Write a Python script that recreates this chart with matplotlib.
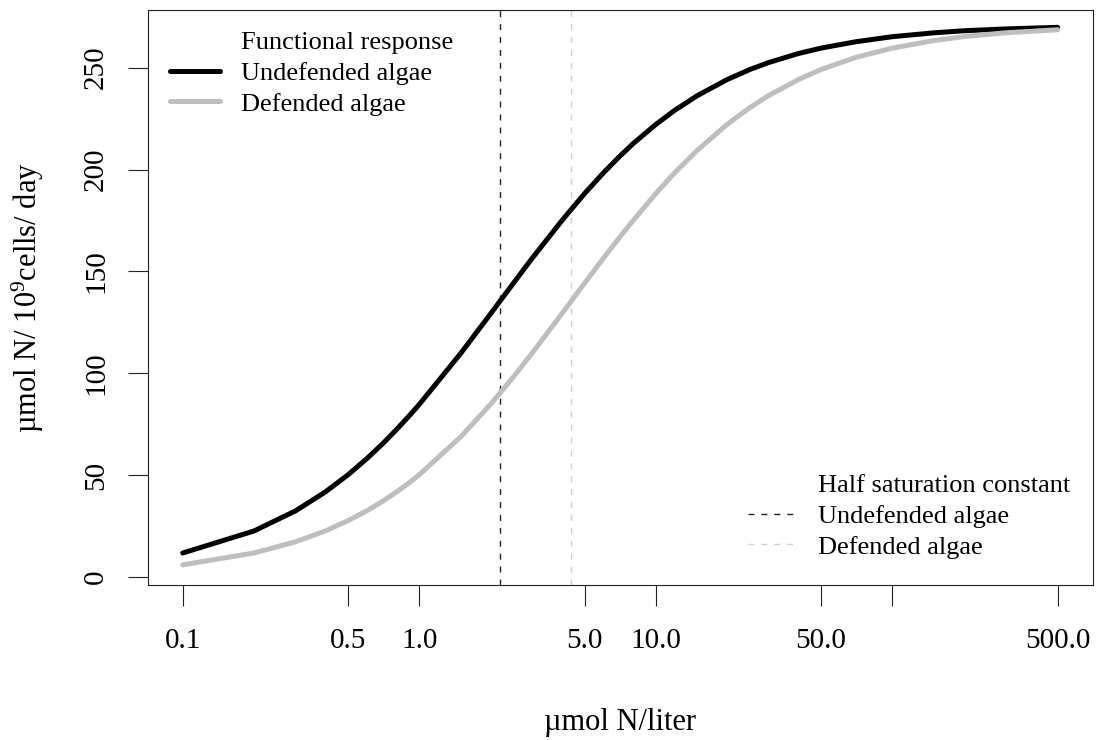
import matplotlib
matplotlib.use("Agg")
import matplotlib.pyplot as plt
from matplotlib.lines import Line2D

plt.rcParams['font.family'] = ['Liberation Serif', 'DejaVu Serif']
plt.rcParams['mathtext.fontset'] = 'custom'
plt.rcParams['mathtext.rm'] = 'Liberation Serif'
plt.rcParams['mathtext.it'] = 'Liberation Serif:italic'
plt.rcParams['mathtext.bf'] = 'Liberation Serif:bold'
plt.rcParams['lines.scale_dashes'] = False

# ---- data ----
nitrogen = [0.1, 0.2, 0.3, 0.4, 0.5, 0.6, 0.7, 0.8, 0.9, 1.0, 1.5, 2.0, 2.5, 3.0, 4.0,
            5.0, 6.0, 7.0, 8.0, 10, 12, 15, 20, 25, 30, 40, 50, 70, 100, 150, 200, 300, 500]
undefended = [11.8, 22.6, 32.5, 41.7, 50.2, 58.1, 65.4, 72.3, 78.7, 84.7, 109.9, 129.1,
              144.2, 156.4, 174.8, 188.2, 198.3, 206.2, 212.6, 222.1, 229.0, 236.3, 244.1,
              249.1, 252.5, 256.9, 259.6, 262.7, 265.2, 267.1, 268.1, 269.0, 269.8]
defended = [6.0, 11.8, 17.3, 22.6, 27.7, 32.5, 37.2, 41.7, 46.0, 50.2, 68.9, 84.7,
            98.2, 109.9, 129.1, 144.2, 156.4, 166.4, 174.8, 188.2, 198.3, 209.5, 222.1,
            230.4, 236.3, 244.1, 249.1, 255.0, 259.6, 263.3, 265.2, 267.1, 268.6]
half_sat_undefended = 2.2
half_sat_defended = 4.4

x_ticks = [0.1, 0.5, 1.0, 5.0, 10.0, 50.0, 100.0, 500.0]
x_tick_labels = ['0.1', '0.5', '1.0', '5.0', '10.0', '50.0', '', '500.0']
y_ticks = [0, 50, 100, 150, 200, 250]

BLACK = '#000000'
GRAY = '#BEBEBE'
DASH_GRAY = '#CFCFCF'

W, H = 1097, 740
fig = plt.figure(figsize=(W / 100, H / 100), dpi=100)
L, R, T, B = 148, 1093, 10, 585
ax = fig.add_axes([L / W, 1 - B / H, (R - L) / W, (B - T) / H])

ax.plot(nitrogen, undefended, color=BLACK, lw=3.6, solid_capstyle='round',
        solid_joinstyle='round', zorder=3)
ax.plot(nitrogen, defended, color=GRAY, lw=3.6, solid_capstyle='round',
        solid_joinstyle='round', zorder=3)
ax.axvline(half_sat_undefended, color='#222222', lw=1.0, dashes=(4.3, 5.0), zorder=2)
ax.axvline(half_sat_defended, color=DASH_GRAY, lw=1.0, dashes=(4.3, 5.0), zorder=2)

ax.set_xscale('log')
ax.set_xlim(0.0713, 706)
ax.set_ylim(-3.9, 278.3)
ax.set_xticks(x_ticks)
ax.set_xticklabels(x_tick_labels)
ax.xaxis.set_minor_locator(matplotlib.ticker.NullLocator())
ax.set_yticks(y_ticks)
ax.set_yticklabels([str(v) for v in y_ticks], rotation=90, va='center')

ax.tick_params(axis='x', length=15, width=0.8, pad=16, labelsize=21, colors='#222222',
               labelcolor='black')
ax.tick_params(axis='y', length=14.4, width=0.8, pad=13.5, labelsize=21, colors='#222222',
               labelcolor='black')
for s in ax.spines.values():
    s.set_linewidth(0.8)
    s.set_color('#222222')

ax.set_xlabel('µmol N/liter', fontsize=22)
ax.xaxis.set_label_coords(620 / W, 1 - 708 / H, transform=fig.transFigure)
ax.set_ylabel('µmol N/ 10$^{9}$cells/ day', fontsize=22)
ax.yaxis.set_label_coords(46 / W, 1 - 297.5 / H, transform=fig.transFigure)

# legend 1: functional response
h1 = [Line2D([], [], color='none'),
      Line2D([], [], color=BLACK, lw=3.6, solid_capstyle='round'),
      Line2D([], [], color=GRAY, lw=3.6, solid_capstyle='round')]
leg1 = ax.legend(h1, ['Functional response', 'Undefended algae', 'Defended algae'],
                 loc='upper left', bbox_to_anchor=(170 / W, 1 - 31.0 / H),
                 bbox_transform=fig.transFigure, frameon=False, fontsize=19,
                 handlelength=1.9, handletextpad=0.8, labelspacing=0.27,
                 borderpad=0, borderaxespad=0)
ax.add_artist(leg1)

h2 = [Line2D([], [], color='none'),
      Line2D([], [], color='#222222', lw=1.0, dashes=(4.3, 5.0)),
      Line2D([], [], color=DASH_GRAY, lw=1.0, dashes=(4.3, 5.0))]
ax.legend(h2, ['Half saturation constant', 'Undefended algae', 'Defended algae'],
          loc='upper left', bbox_to_anchor=(748 / W, 1 - 474.0 / H),
          bbox_transform=fig.transFigure, frameon=False, fontsize=19,
          handlelength=1.8, handletextpad=0.87, labelspacing=0.27,
          borderpad=0, borderaxespad=0)

fig.savefig('out.png', dpi=100)
